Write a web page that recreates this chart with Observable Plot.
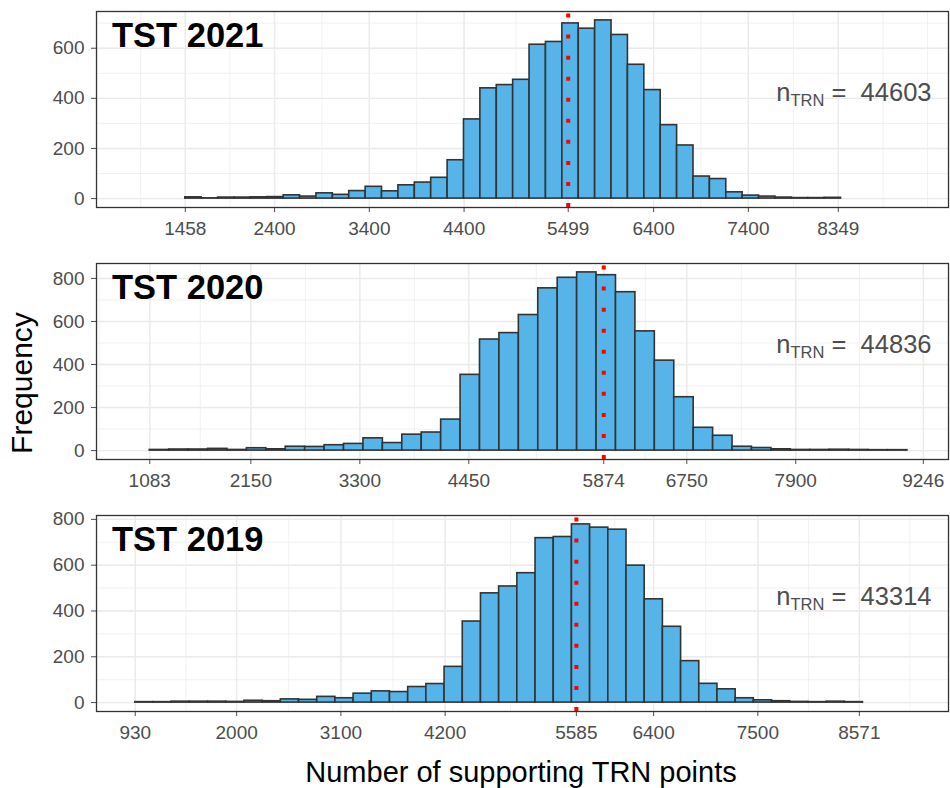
<!DOCTYPE html>
<html>
<head>
<meta charset="utf-8">
<script src="https://cdn.jsdelivr.net/npm/d3@7"></script>
<script src="https://cdn.jsdelivr.net/npm/@observablehq/plot@0.6"></script>
<style>
  html, body { margin: 0; padding: 0; background: #fff; }
  #root { position: relative; width: 950px; height: 788px; font-family: "Liberation Sans", Arial, Helvetica, sans-serif; }
  #root svg { display: block; }
  .ytitle { position: absolute; left: 22px; top: 383px; transform: translate(-50%, -50%) rotate(-90deg); font-size: 30px; color: #000; white-space: nowrap; }
  .xtitle { position: absolute; left: 521px; top: 772px; transform: translate(-50%, -50%); font-size: 29px; color: #000; white-space: nowrap; }
</style>
</head>
<body>
<div id="root">
  <div id="plots"></div>
  <div class="ytitle">Frequency</div>
  <div class="xtitle">Number of supporting TRN points</div>
</div>
<script>
// ---- data ----
const panelLabels = ["TST 2021", "TST 2020", "TST 2019"];
const nTRN = [44603, 44836, 43314];
const meanValues = [5499, 5874, 5585];
const binStart = [1458, 1083, 930];
const binWidth = [173, 205, 192];

const xTicks2021 = [1458, 2400, 3400, 4400, 5499, 6400, 7400, 8349];
const xTicks2020 = [1083, 2150, 3300, 4450, 5874, 6750, 7900, 9246];
const xTicks2019 = [930, 2000, 3100, 4200, 5585, 6400, 7500, 8571];

const yTicks2021 = [0, 200, 400, 600];
const yTicks2020 = [0, 200, 400, 600, 800];
const yTicks2019 = [0, 200, 400, 600, 800];

const counts2021 = [5, 1, 4, 4, 5, 6, 13, 8, 21, 15, 30, 47, 29, 53, 64, 83, 153, 316, 440, 453,
                    474, 614, 625, 699, 678, 711, 653, 534, 433, 293, 212, 88, 78, 25, 12, 8, 4, 2, 2, 3];
const counts2020 = [3, 5, 5, 8, 3, 11, 6, 18, 17, 25, 31, 57, 35, 74, 84, 144, 352, 516, 546, 630,
                    754, 803, 828, 815, 736, 554, 418, 248, 106, 69, 18, 12, 6, 3, 3, 4, 3, 2, 2];
const counts2019 = [2, 2, 4, 4, 4, 3, 8, 6, 14, 12, 25, 19, 39, 49, 46, 68, 81, 156, 354, 477,
                    507, 565, 718, 723, 778, 764, 755, 598, 451, 331, 181, 82, 58, 19, 10, 6, 3, 2, 4, 2];

const xDomain = [521, 9512];

const panels = [
  {label: panelLabels[0], n: nTRN[0], mean: meanValues[0], start: binStart[0], width: binWidth[0], counts: counts2021, xt: xTicks2021, yt: yTicks2021},
  {label: panelLabels[1], n: nTRN[1], mean: meanValues[1], start: binStart[1], width: binWidth[1], counts: counts2020, xt: xTicks2020, yt: yTicks2020},
  {label: panelLabels[2], n: nTRN[2], mean: meanValues[2], start: binStart[2], width: binWidth[2], counts: counts2019, xt: xTicks2019, yt: yTicks2019}
];

// ggplot-style minor breaks (midpoints, extended by first step on both ends)
function minorBreaks(b, lim) {
  const bd = b[1] - b[0];
  let bb = b.slice();
  if (lim[0] < bb[0]) bb = [bb[0] - bd, ...bb];
  if (lim[1] > bb[bb.length - 1]) bb = [...bb, bb[bb.length - 1] + bd];
  const out = [];
  for (let i = 0; i < bb.length - 1; i++) { out.push(bb[i], (bb[i] + bb[i + 1]) / 2); }
  out.push(bb[bb.length - 1]);
  return out.filter(v => v >= lim[0] && v <= lim[1]);
}

const FONT = '"Liberation Sans", Arial, Helvetica, sans-serif';
const container = document.getElementById("plots");

for (const p of panels) {
  const bins = p.counts.map((c, i) => ({x1: p.start + i * p.width, x2: p.start + (i + 1) * p.width, count: c}));
  const maxC = d3.max(p.counts);
  const yDomain = [-0.05 * maxC, 1.05 * maxC];
  const xMinor = minorBreaks(p.xt, xDomain);
  const yMinor = minorBreaks(p.yt, yDomain);
  const xMajor = p.xt.filter(v => v >= xDomain[0] && v <= xDomain[1]);
  const yMajor = p.yt;

  const svg = Plot.plot({
    width: 950,
    height: 252,
    marginTop: 11,
    marginBottom: 45,
    marginLeft: 96,
    marginRight: 2,
    style: {fontFamily: FONT, fontSize: "19px", color: "#4d4d4d", background: "#fff", overflow: "visible"},
    x: {domain: xDomain, ticks: p.xt, tickFormat: d => String(d), tickSize: 5, tickPadding: 9, label: null},
    y: {domain: yDomain, ticks: p.yt, tickFormat: d => String(d), tickSize: 5, tickPadding: 7, label: null},
    marks: [
      Plot.ruleX(xMinor, {x: d => d, stroke: "#ebebeb", strokeWidth: 0.7}),
      Plot.ruleY(yMinor, {y: d => d, stroke: "#ebebeb", strokeWidth: 0.7}),
      Plot.ruleX(xMajor, {x: d => d, stroke: "#ebebeb", strokeWidth: 1.4}),
      Plot.ruleY(yMajor, {y: d => d, stroke: "#ebebeb", strokeWidth: 1.4}),
      Plot.rectY(bins, {x1: "x1", x2: "x2", y: "count", fill: "#56B4E9", stroke: "#333333", strokeWidth: 1.6}),
      Plot.ruleX([{x: p.mean, lo: yDomain[0], hi: yDomain[1]}], {x: "x", y1: "lo", y2: "hi", stroke: "#ff0000", strokeWidth: 4, strokeDasharray: "4,17.05"}),
      Plot.text([p.label], {text: d => d, frameAnchor: "top-left", textAnchor: "start", lineAnchor: "bottom", dx: 15.5, dy: 35.6, fontSize: 34.5, fontWeight: "bold", fill: "#000"}),
      Plot.text(["nTRN|" + p.n], {text: d => d, frameAnchor: "top-right", textAnchor: "end", lineAnchor: "bottom", dx: -17, dy: 89.8, fontSize: 25.5, fill: "#4d4d4d"}),
      Plot.frame({stroke: "#333333", strokeWidth: 1.3})
    ]
  });

  // render n_TRN with a real subscript
  d3.select(svg).selectAll("text").each(function () {
    const t = this.textContent;
    if (t && t.startsWith("nTRN|")) {
      const val = t.split("|")[1];
      const ns = "http://www.w3.org/2000/svg";
      while (this.firstChild) this.removeChild(this.firstChild);
      this.style.whiteSpace = "pre";
      const a = document.createElementNS(ns, "tspan"); a.textContent = "n";
      const b = document.createElementNS(ns, "tspan"); b.textContent = "TRN"; b.setAttribute("font-size", "16.5"); b.setAttribute("dy", "4.5");
      const c = document.createElementNS(ns, "tspan"); c.textContent = " =  " + val; c.setAttribute("dy", "-4.5");
      this.appendChild(a); this.appendChild(b); this.appendChild(c);
    }
  });

  container.appendChild(svg);
}
</script>
</body>
</html>
